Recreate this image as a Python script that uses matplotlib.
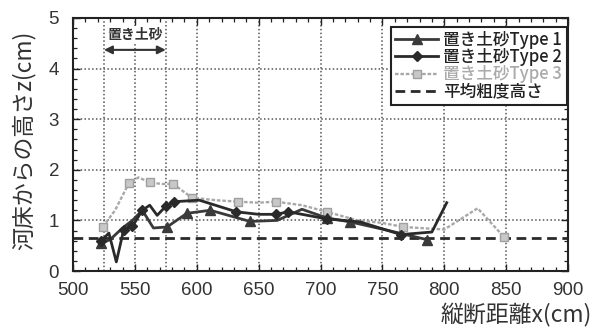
import matplotlib
matplotlib.use("Agg")
import matplotlib.pyplot as plt
from matplotlib.ticker import MultipleLocator, FixedLocator

plt.rcParams['font.family'] = ['Noto Sans CJK JP', 'DejaVu Sans']

# ---- data ----
type1_x = [523, 530, 540, 548, 556, 565, 576, 592, 611, 643, 665, 685, 705, 724, 755, 786]
type1_y = [0.55, 0.62, 0.85, 1.0, 1.2, 0.85, 0.87, 1.14, 1.2, 0.98, 1.0, 1.22, 1.05, 0.97, 0.8, 0.62]

type2_x = [523, 529, 535, 541, 548, 556, 562, 568, 575, 582, 602, 632, 650, 664, 674, 705, 732, 765, 790, 802]
type2_y = [0.6, 0.75, 0.18, 0.82, 0.88, 1.2, 1.3, 1.1, 1.28, 1.37, 1.4, 1.17, 1.12, 1.12, 1.17, 1.03, 0.97, 0.72, 0.77, 1.35]

type3_x = [524, 534, 545, 553, 562, 572, 581, 596, 615, 633, 650, 664, 685, 705, 730, 750, 767, 800, 827, 848]
type3_y = [0.87, 1.2, 1.73, 1.85, 1.75, 1.72, 1.72, 1.45, 1.4, 1.37, 1.35, 1.37, 1.3, 1.17, 1.0, 0.95, 0.87, 0.82, 1.24, 0.68]

mean_roughness = 0.65
deposit_range = [525, 575]

labels = ['置き土砂Type 1', '置き土砂Type 2', '置き土砂Type 3', '平均粗度高さ']
x_ticks = [500, 550, 600, 650, 700, 750, 800, 850, 900]
y_ticks = [0, 1, 2, 3, 4, 5]

# ---- figure ----
fig = plt.figure(figsize=(5.96, 3.29), dpi=100)
ax = fig.add_axes([73/596, 1-271/329, (568-73)/596, (271-18)/329])

# grid
for gx in [525, 550, 575, 600, 650, 700, 750, 800, 850]:
    ax.axvline(gx, color='#555555', lw=1.1, ls=(0, (1, 1.5)), zorder=1)
for gy in [1, 2, 3, 4]:
    ax.axhline(gy, color='#555555', lw=1.1, ls=(0, (1, 1.5)), zorder=1)

l3, = ax.plot(type3_x, type3_y, color='#a8a8a8', lw=1.7, ls=(0, (1.5, 0.8)),
              marker='s', ms=6, mfc='#c8c8c8', mec='#a0a0a0',
              markevery=[0, 2, 4, 6, 7, 9, 11, 13, 16, 19], zorder=3)
l1, = ax.plot(type1_x, type1_y, color='#3a3a3a', lw=2.0, marker='^', ms=7,
              markevery=[0, 6, 7, 8, 9, 12, 13, 15], zorder=4)
l2, = ax.plot(type2_x, type2_y, color='#2a2a2a', lw=2.0, marker='D', ms=5,
              markevery=[0, 3, 4, 5, 8, 9, 11, 13, 14, 15, 17], zorder=4)
l4 = ax.axhline(mean_roughness, color='#2a2a2a', lw=2.0, ls=(0, (3.5, 2)), zorder=2)

# deposit annotation
ax.annotate('', xy=(deposit_range[0], 4.37), xytext=(deposit_range[1], 4.37),
            arrowprops=dict(arrowstyle='<|-|>', color='#333333', lw=1.5,
                            mutation_scale=12, shrinkA=0, shrinkB=0), zorder=5)
ax.text(sum(deposit_range)/2, 4.68, '置き土砂', ha='center', va='center',
        fontsize=10, fontweight='bold', color='#333333',
        bbox=dict(facecolor='white', edgecolor='none', pad=0.5), zorder=5)

ax.set_xlim(500, 900)
ax.set_ylim(0, 5)
ax.xaxis.set_major_locator(FixedLocator(x_ticks))
ax.yaxis.set_major_locator(FixedLocator(y_ticks))
ax.xaxis.set_minor_locator(MultipleLocator(10))
ax.yaxis.set_minor_locator(MultipleLocator(0.2))
ax.tick_params(which='both', direction='in', top=True, right=True, color='#222222')
ax.tick_params(which='major', length=5, width=1.0)
ax.tick_params(which='minor', length=3, width=0.9)
ax.tick_params(axis='x', which='major', pad=8)
ax.tick_params(axis='y', which='major', pad=10)
for lab in ax.get_xticklabels() + ax.get_yticklabels():
    lab.set_fontfamily('Liberation Sans')
    lab.set_fontsize(13.5)
    lab.set_color('#333333')
for sp in ax.spines.values():
    sp.set_linewidth(1.5)
    sp.set_color('#222222')

leg = ax.legend([l1, l2, l3, l4], labels, loc='upper right',
                bbox_to_anchor=(0.997, 0.965), fontsize=12, frameon=True,
                fancybox=False, edgecolor='#222222', framealpha=1,
                handlelength=2.6, handletextpad=0.3, labelspacing=-0.05,
                borderpad=0.25, borderaxespad=0.0)
leg.get_frame().set_linewidth(1.5)
for t, c in zip(leg.get_texts(), ['#222222', '#222222', '#aaaaaa', '#222222']):
    t.set_color(c)
    t.set_fontweight('medium')

fig.text(24/596, 1-140/329, '河床からの高さz(cm)', rotation=90, ha='center', va='center',
         fontsize=16.5, color='#333333')
fig.text(592/596, 1-315/329, '縦断距離x(cm)', ha='right', va='center',
         fontsize=16.5, color='#333333')

fig.savefig('out.png', dpi=100, facecolor='white')
